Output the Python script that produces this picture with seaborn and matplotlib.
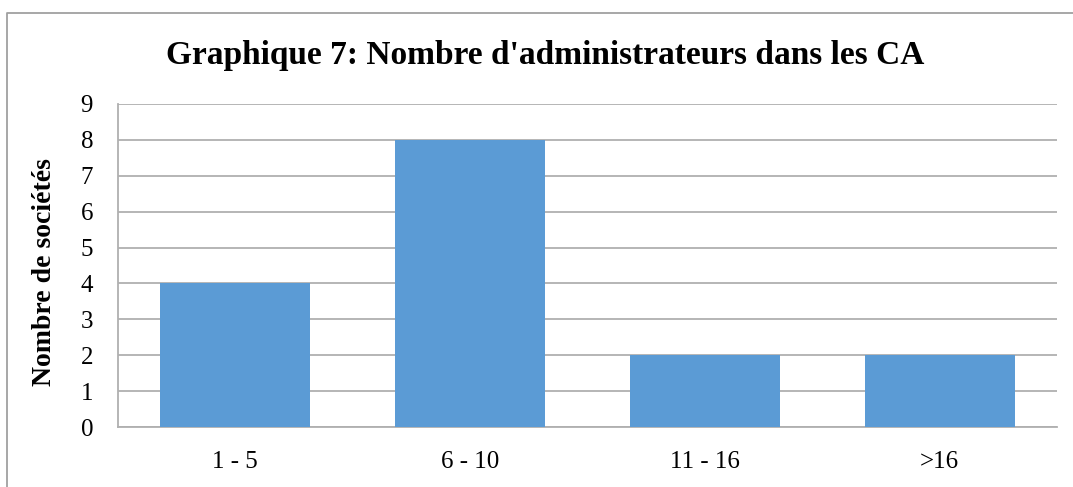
import matplotlib.pyplot as plt
import seaborn as sns
import pandas as pd
from matplotlib.lines import Line2D

# Data
categories = ["1 - 5", "6 - 10", "11 - 16", ">16"]
counts = [4, 8, 2, 2]

df = pd.DataFrame({"Tranche": categories, "Sociétés": counts})

sns.set_theme(style="white")
plt.rcParams["font.family"] = ["Liberation Serif", "DejaVu Serif"]
plt.rcParams["text.color"] = "black"

W, H = 1073, 487
fig = plt.figure(figsize=(W / 100, H / 100), dpi=100)
ax = fig.add_axes([118 / W, 1 - 427 / H, (1057 - 118) / W, (427 - 104) / H])

sns.barplot(x="Tranche", y="Sociétés", data=df, color="#5B9BD5",
            width=0.64, saturation=1, linewidth=0, ax=ax, zorder=3)

ax.set_ylim(0, 9)
ax.set_yticks(range(0, 10))
ax.set_xlim(-0.5, 3.5)
ax.yaxis.grid(True, color="#B0B0B0", linewidth=1.3, zorder=0)
ax.set_axisbelow(True)
ax.tick_params(axis="both", labelsize=18, length=0, colors="black")
ax.tick_params(axis="y", pad=18)
ax.tick_params(axis="x", pad=17)

for s in ["top", "right"]:
    ax.spines[s].set_visible(False)
for s in ["left", "bottom"]:
    ax.spines[s].set_color("#B0B0B0")
    ax.spines[s].set_linewidth(1.3)

ax.set_xlabel("")
ax.set_ylabel("")
fig.text(45 / W, 1 - 272 / H, "Nombre de sociétés", rotation=90,
         ha="center", va="center", fontsize=20, fontweight="bold", color="black")

fig.text(545 / W, 1 - 64 / H, "Graphique 7: Nombre d'administrateurs dans les CA",
         ha="center", va="baseline", fontsize=24, fontweight="bold", color="black")

# outer chart border (only left and top edges fall inside the picture)
fig.lines.append(Line2D([7 / W, 7 / W, 1.0], [0.0, 1 - 13 / H, 1 - 13 / H],
                        transform=fig.transFigure, color="#A0A0A0", linewidth=1.3))

fig.savefig("out.png", dpi=100)
